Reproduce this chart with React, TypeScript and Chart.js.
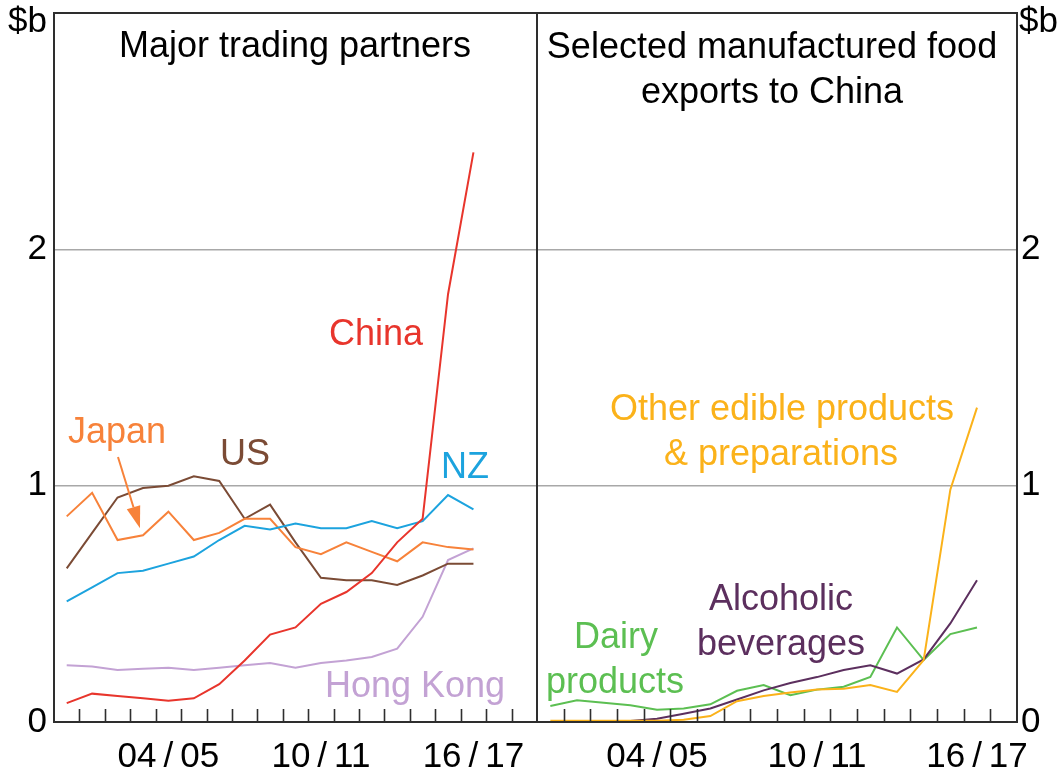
import React, { useEffect, useRef } from 'react';
import { Chart, registerables } from 'chart.js';

Chart.register(...registerables);

// ---- Data ----
const leftYears = ['00/01', '01/02', '02/03', '03/04', '04/05', '05/06', '06/07', '07/08', '08/09', '09/10', '10/11', '11/12', '12/13', '13/14', '14/15', '15/16', '16/17', '17/18', '18/19'];
const rightYears = ['00/01', '01/02', '02/03', '03/04', '04/05', '05/06', '06/07', '07/08', '08/09', '09/10', '10/11', '11/12', '12/13', '13/14', '14/15', '15/16', '16/17', '17/18'];
const shownTicks = ['04/05', '10/11', '16/17'];
const yTickValues = [0, 1, 2];

const china = [0.08, 0.12, 0.11, 0.10, 0.09, 0.10, 0.16, 0.26, 0.37, 0.40, 0.50, 0.55, 0.63, 0.76, 0.86, 1.81, 2.41];
const japan = [0.87, 0.97, 0.77, 0.79, 0.89, 0.77, 0.80, 0.86, 0.86, 0.74, 0.71, 0.76, 0.72, 0.68, 0.76, 0.74, 0.73];
const us = [0.65, 0.80, 0.95, 0.99, 1.00, 1.04, 1.02, 0.86, 0.92, 0.76, 0.61, 0.60, 0.60, 0.58, 0.62, 0.67, 0.67];
const nz = [0.51, 0.57, 0.63, 0.64, 0.67, 0.70, 0.77, 0.83, 0.815, 0.84, 0.82, 0.82, 0.85, 0.82, 0.85, 0.96, 0.90];
const hongKong = [0.24, 0.235, 0.22, 0.225, 0.23, 0.22, 0.23, 0.24, 0.25, 0.23, 0.25, 0.26, 0.275, 0.31, 0.445, 0.685, 0.735];

const otherEdible = [0.005, 0.005, 0.005, 0.005, 0.005, 0.01, 0.025, 0.088, 0.11, 0.125, 0.138, 0.141, 0.156, 0.127, 0.262, 0.983, 1.33];
const alcoholic = [0.0, 0.0, 0.0, 0.004, 0.014, 0.035, 0.057, 0.095, 0.134, 0.165, 0.19, 0.22, 0.24, 0.205, 0.265, 0.417, 0.60];
const dairy = [0.068, 0.092, 0.081, 0.071, 0.052, 0.057, 0.075, 0.132, 0.156, 0.113, 0.137, 0.149, 0.191, 0.40, 0.262, 0.372, 0.40];

// ---- Styles ----
const FONT = '"Liberation Sans", Arial, sans-serif';
const C = {
  china: '#e8352c',
  japan: '#f7823a',
  us: '#7b4b35',
  nz: '#1ca3de',
  hk: '#c3a2d4',
  other: '#fbb21a',
  alcoholic: '#5c2f5e',
  dairy: '#5cbf52',
  grid: '#a8a8a8',
  frame: '#2e2e2e',
};

Chart.defaults.font.family = FONT;

function fmtTick(label: string) {
  return label.replace('/', '\u2009/\u2009');
}

function text(ctx: CanvasRenderingContext2D, s: string, x: number, y: number, color: string, align: CanvasTextAlign = 'left', size = 36) {
  ctx.save();
  ctx.font = `${size}px ${FONT}`;
  ctx.fillStyle = color;
  ctx.textAlign = align;
  ctx.textBaseline = 'alphabetic';
  ctx.fillText(s, x, y);
  ctx.restore();
}

const framePlugin = {
  id: 'frame',
  afterDatasetsDraw(chart: any) {
    const { ctx, chartArea } = chart;
    const xs = chart.scales.x;
    ctx.save();
    ctx.strokeStyle = C.frame;
    ctx.lineWidth = 1.6;
    const n = xs.getLabels().length;
    for (let i = 1; i < n; i++) {
      const px = Math.round((xs.getPixelForValue(i - 1) + xs.getPixelForValue(i)) / 2) + 0.5;
      ctx.beginPath();
      ctx.moveTo(px, chartArea.bottom - 13);
      ctx.lineTo(px, chartArea.bottom);
      ctx.stroke();
    }
    ctx.lineWidth = 2;
    ctx.strokeRect(chartArea.left, chartArea.top, chartArea.right - chartArea.left, chartArea.bottom - chartArea.top);
    ctx.restore();
  },
};

function lineDs(label: string, data: number[], color: string) {
  return {
    label,
    data,
    borderColor: color,
    backgroundColor: color,
    borderWidth: 2,
    pointRadius: 0,
    tension: 0,
    fill: false,
  };
}

function zeroPad(s: any) {
  s.paddingTop = 0;
  s.paddingBottom = 0;
  s.paddingLeft = 0;
  s.paddingRight = 0;
}

function makeOptions(side: 'left' | 'right', labels: string[]) {
  return {
    responsive: false,
    animation: false,
    events: [],
    layout: {
      padding: side === 'left'
        ? { top: 13, right: 1063 - 537, bottom: 0, left: 0 }
        : { top: 13, right: 0, bottom: 0, left: 537 },
    },
    plugins: { legend: { display: false }, tooltip: { enabled: false }, title: { display: false } },
    scales: {
      x: {
        type: 'category',
        labels,
        offset: true,
        grid: { display: false },
        border: { display: false },
        ticks: {
          autoSkip: false,
          maxRotation: 0,
          minRotation: 0,
          padding: 6,
          color: '#000',
          font: { size: 35, family: FONT },
          callback(this: any, value: any) {
            const lab = this.getLabelForValue(value);
            return shownTicks.includes(lab) ? fmtTick(lab) : '';
          },
        },
        afterFit(s: any) { s.height = 52; zeroPad(s); },
      },
      y: {
        position: side,
        min: 0,
        max: 3,
        border: { display: false },
        grid: {
          drawTicks: false,
          lineWidth: 1.5,
          color: (c: any) => (c.tick && (c.tick.value === 1 || c.tick.value === 2) ? C.grid : 'rgba(0,0,0,0)'),
        },
        ticks: {
          stepSize: 1,
          padding: side === 'left' ? 7 : 4,
          color: '#000',
          font: { size: 35, family: FONT },
          callback: (v: any) => (yTickValues.includes(Number(v)) ? String(v) : ''),
        },
        afterFit(s: any) { s.width = side === 'left' ? 54 : 1063 - 1017; zeroPad(s); },
      },
    },
  };
}

const leftTextPlugin = {
  id: 'leftText',
  afterDraw(chart: any) {
    const { ctx } = chart;
    const xs = chart.scales.x;
    const ys = chart.scales.y;
    text(ctx, '$b', 47, 32, '#000', 'right', 35);
    text(ctx, 'Major trading partners', 295, 57, '#000', 'center');
    text(ctx, 'China', 376, 345, C.china, 'center');
    text(ctx, 'Japan', 68, 443, C.japan, 'left');
    text(ctx, 'US', 220, 465, C.us, 'left');
    text(ctx, 'NZ', 441, 478, C.nz, 'left');
    text(ctx, 'Hong Kong', 325, 697, C.hk, 'left');
    // Japan arrow pointing at its 03/04 value
    const tx = xs.getPixelForValue(3) - 3;
    const ty = ys.getPixelForValue(japan[3]) - 7;
    const sx = 118, sy = 457;
    const dx = tx - sx, dy = ty - sy;
    const len = Math.hypot(dx, dy);
    const ux = dx / len, uy = dy / len;
    const bx = tx - 22 * ux, by = ty - 22 * uy;
    const nx = -uy, ny = ux;
    ctx.save();
    ctx.strokeStyle = C.japan;
    ctx.fillStyle = C.japan;
    ctx.lineWidth = 2;
    ctx.beginPath();
    ctx.moveTo(sx, sy);
    ctx.lineTo(bx, by);
    ctx.stroke();
    ctx.beginPath();
    ctx.moveTo(tx, ty);
    ctx.lineTo(bx + 7 * nx, by + 7 * ny);
    ctx.lineTo(bx - 7 * nx, by - 7 * ny);
    ctx.closePath();
    ctx.fill();
    ctx.restore();
  },
};

const rightTextPlugin = {
  id: 'rightText',
  afterDraw(chart: any) {
    const { ctx } = chart;
    text(ctx, '$b', 1019, 32, '#000', 'left', 35);
    text(ctx, 'Selected manufactured food', 772, 58, '#000', 'center');
    text(ctx, 'exports to China', 772, 103, '#000', 'center');
    text(ctx, 'Other edible products', 782, 420, C.other, 'center');
    text(ctx, '& preparations', 781, 465, C.other, 'center');
    text(ctx, 'Alcoholic', 781, 610, C.alcoholic, 'center');
    text(ctx, 'beverages', 781, 655, C.alcoholic, 'center');
    text(ctx, 'Dairy', 616, 648, C.dairy, 'center');
    text(ctx, 'products', 615, 693, C.dairy, 'center');
  },
};

export default function App() {
  const leftRef = useRef<HTMLCanvasElement>(null);
  const rightRef = useRef<HTMLCanvasElement>(null);

  useEffect(() => {
    const left = new Chart(leftRef.current as HTMLCanvasElement, {
      type: 'line',
      data: {
        labels: leftYears,
        datasets: [
          lineDs('China', china, C.china),
          lineDs('NZ', nz, C.nz),
          lineDs('Japan', japan, C.japan),
          lineDs('US', us, C.us),
          lineDs('Hong Kong', hongKong, C.hk),
        ],
      },
      options: makeOptions('left', leftYears) as any,
      plugins: [framePlugin, leftTextPlugin],
    } as any);
    const right = new Chart(rightRef.current as HTMLCanvasElement, {
      type: 'line',
      data: {
        labels: rightYears,
        datasets: [
          lineDs('Other edible products & preparations', otherEdible, C.other),
          lineDs('Alcoholic beverages', alcoholic, C.alcoholic),
          lineDs('Dairy products', dairy, C.dairy),
        ],
      },
      options: makeOptions('right', rightYears) as any,
      plugins: [framePlugin, rightTextPlugin],
    } as any);
    return () => {
      left.destroy();
      right.destroy();
    };
  }, []);

  const cs: React.CSSProperties = { position: 'absolute', left: 0, top: 0, width: 1063, height: 774 };
  return (
    <div style={{ position: 'fixed', left: 0, top: 0, width: 1063, height: 774, background: '#fff' }}>
      <canvas ref={leftRef} width={1063} height={774} style={cs} />
      <canvas ref={rightRef} width={1063} height={774} style={cs} />
    </div>
  );
}
